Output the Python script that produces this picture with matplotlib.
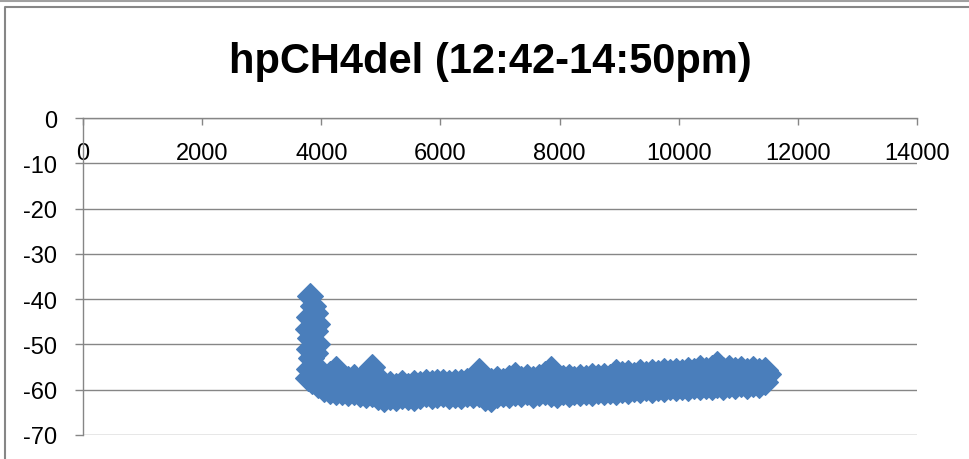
import matplotlib.pyplot as plt
from matplotlib.lines import Line2D

# vertical cluster at the start of the run
start_x = [3810, 3860, 3900, 3790, 3930, 3780, 3890, 3810, 3920, 3790,
           3900, 3820, 3880, 3800, 3930, 3780, 3850, 3920, 3950]
start_y = [-39.2, -41.5, -43.0, -44.0, -45.5, -46.5, -47.0, -48.5, -50.0, -51.0,
           -52.0, -53.0, -54.5, -55.5, -56.0, -57.5, -58.0, -57.5, -58.5]

# main band: upper, middle and lower readings at each x
band_x = [3950, 4050, 4150, 4250, 4350, 4450, 4550, 4650, 4750, 4850,
          4950, 5050, 5150, 5250, 5350, 5450, 5550, 5650, 5750, 5850,
          5950, 6050, 6150, 6250, 6350, 6450, 6550, 6650, 6750, 6850,
          6950, 7050, 7150, 7250, 7350, 7450, 7550, 7650, 7750, 7850,
          7950, 8050, 8150, 8250, 8350, 8450, 8550, 8650, 8750, 8850,
          8950, 9050, 9150, 9250, 9350, 9450, 9550, 9650, 9750, 9850,
          9950, 10050, 10150, 10250, 10350, 10450, 10550, 10650, 10750, 10850,
          10950, 11050, 11150, 11250, 11350, 11450]
band_hi = [-57.0, -57.5, -56.6, -55.4, -57.2, -57.6, -57.3, -57.8, -57.0, -55.0,
           -57.5, -59.0, -58.8, -59.2, -58.6, -59.1, -58.5, -58.7, -58.3, -58.6,
           -58.4, -58.2, -58.5, -58.3, -58.4, -58.1, -57.6, -55.8, -57.7, -58.0,
           -57.6, -58.1, -57.5, -56.7, -57.6, -57.2, -57.7, -57.3, -56.6, -55.5,
           -57.0, -57.5, -57.3, -57.6, -57.2, -57.4, -57.0, -57.3, -56.9, -57.2,
           -56.2, -56.6, -56.4, -56.7, -56.2, -56.5, -56.1, -56.3, -55.9, -56.2,
           -55.8, -56.0, -55.6, -55.9, -55.3, -55.7, -55.2, -54.4, -55.6, -55.3,
           -55.7, -55.4, -55.8, -55.5, -55.9, -55.6]
band_mid = [-58.2, -58.7, -58.6, -58.9, -59.1, -59.3, -59.0, -59.4, -59.2, -59.0,
            -59.6, -60.4, -60.2, -60.5, -60.0, -60.3, -60.1, -60.0, -59.7, -60.0,
            -59.8, -59.6, -60.0, -59.7, -59.9, -59.6, -59.4, -59.3, -59.8, -60.1,
            -59.4, -59.5, -59.3, -58.8, -59.3, -58.9, -59.4, -59.0, -58.6, -58.7,
            -59.1, -59.0, -59.1, -59.0, -58.9, -58.9, -58.9, -58.8, -58.7, -58.7,
            -58.4, -58.3, -58.4, -58.3, -58.2, -58.1, -58.0, -58.0, -57.9, -57.8,
            -57.7, -57.6, -57.6, -57.5, -57.4, -57.4, -57.3, -57.0, -57.4, -57.1,
            -57.4, -57.1, -57.4, -57.1, -57.4, -57.0]
band_lo = [-59.0, -59.8, -60.2, -60.4, -60.6, -60.8, -60.5, -61.0, -61.2, -61.0,
           -61.6, -62.0, -61.7, -61.9, -61.5, -61.6, -61.9, -61.3, -61.0, -61.4,
           -61.2, -61.0, -61.5, -61.1, -61.3, -61.0, -61.2, -61.0, -61.8, -62.1,
           -61.2, -60.9, -61.1, -60.8, -61.0, -60.6, -61.1, -60.8, -60.5, -60.9,
           -61.2, -60.6, -60.9, -60.5, -60.7, -60.4, -60.8, -60.3, -60.6, -60.2,
           -60.5, -60.0, -60.3, -59.9, -60.1, -59.7, -60.0, -59.6, -59.8, -59.4,
           -59.7, -59.3, -59.6, -59.2, -59.5, -59.1, -59.4, -59.0, -59.3, -58.9,
           -59.2, -58.8, -59.1, -58.7, -58.9, -58.4]
end_x = [11500]
end_y = [-56.6]

xs = start_x + band_x + band_x + band_x + end_x
ys = start_y + band_hi + band_mid + band_lo + end_y

grey = '#868686'
blue = '#4A7EBB'

plt.rcParams['font.family'] = ['Liberation Sans', 'DejaVu Sans']
plt.rcParams['axes.unicode_minus'] = False

fig = plt.figure(figsize=(9.7, 4.6), dpi=100)
ax = fig.add_axes([0.0856, 0.0522, 0.8598, 0.6891])

ax.plot(xs, ys, linestyle='none', marker='D', markersize=13,
        markerfacecolor=blue, markeredgecolor=blue, markeredgewidth=0.8,
        zorder=3, clip_on=False)

ax.set_xlim(0, 14000)
ax.set_ylim(-70, 0)
ax.set_xticks(range(0, 14001, 2000))
ax.set_yticks(range(-70, 1, 10))

# x axis sits on y = 0, labels below it
ax.spines['bottom'].set_position(('data', 0))
ax.spines['top'].set_visible(False)
ax.spines['right'].set_visible(False)
for s in ['bottom', 'left']:
    ax.spines[s].set_color(grey)
    ax.spines[s].set_linewidth(1.0)

ax.yaxis.grid(True, color=grey, linewidth=1.0)
ax.set_axisbelow(True)

ax.tick_params(axis='y', direction='out', length=5.8, width=1.0, color=grey,
               pad=13, labelsize=17)
ax.tick_params(axis='x', direction='out', length=5.0, width=1.0, color=grey,
               pad=12, labelsize=17)

fig.text(0.5057, 0.841, 'hpCH4del (12:42-14:50pm)', ha='center', va='baseline',
         fontsize=30, fontweight='bold')

# chart frame
fig.add_artist(Line2D([0, 1], [1 - 2 / 460, 1 - 2 / 460], transform=fig.transFigure,
                      color='#A0A0A0', linewidth=1.5))
fig.add_artist(Line2D([5 / 970, 5 / 970, 1], [0, 1 - 8 / 460, 1 - 8 / 460],
                      transform=fig.transFigure, color=grey, linewidth=1.5))

fig.savefig('out.png', dpi=100)
